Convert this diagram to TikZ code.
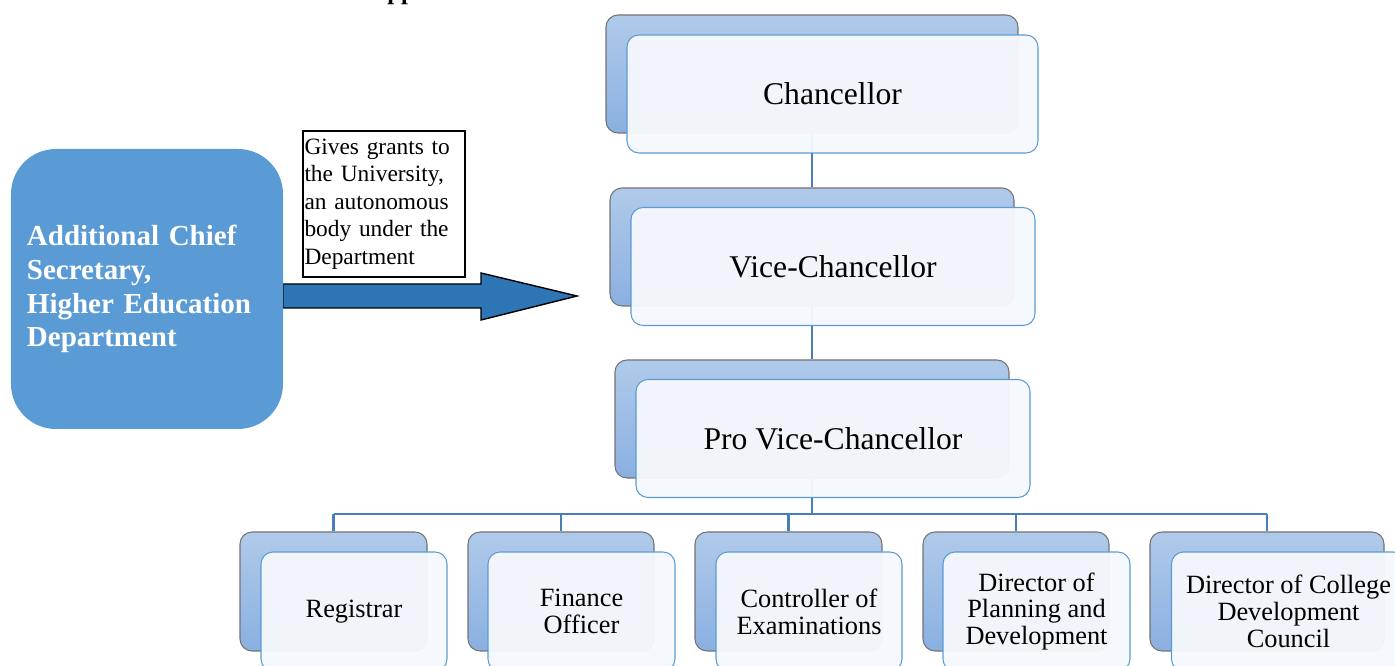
\documentclass[tikz,border=0pt]{standalone}
\usepackage{fontspec}
\setmainfont{Liberation Serif}
\definecolor{acsblue}{HTML}{5B9BD5}
\definecolor{arrowblue}{HTML}{2E75B6}
\definecolor{backtop}{HTML}{B0CAEA}
\definecolor{backbot}{HTML}{8AB0E1}
\definecolor{frontfill}{HTML}{F5F8FC}
\definecolor{frontline}{HTML}{5B9BD5}
\definecolor{linkblue}{HTML}{4A7EBB}
\begin{document}
\begin{tikzpicture}[
  backbox/.style={draw=black!55, line width=0.6pt, rounded corners=0.24cm, top color=backtop, bottom color=backbot, inner sep=0pt},
  frontbox/.style={draw=frontline, line width=0.6pt, rounded corners=0.24cm, fill=frontfill, fill opacity=0.96, text opacity=1, inner sep=2pt, align=center},
  toptext/.style={font=\fontsize{18}{21.6}\selectfont},
  subtext/.style={font=\fontsize{15}{15.3}\selectfont},
  link/.style={draw=linkblue, line width=1.2pt}
]
\useasboundingbox (0,0) rectangle (27.9,-13.32);
% cut-off title
\node[anchor=base west, inner sep=0pt, font=\bfseries\fontsize{14}{16}\selectfont] (title) at (7.74,0) {pp};
% grant arrow and department
\draw[fill=arrowblue, line width=0.8pt] (5.66,-5.68) -- (9.62,-5.68) -- (9.62,-5.46) -- (11.54,-5.92) -- (9.62,-6.40) -- (9.62,-6.16) -- (5.66,-6.16) -- cycle;
\node[fill=acsblue, rounded corners=0.9cm, minimum width=5.44cm, minimum height=5.6cm, text width=4.8cm, inner sep=0.32cm, align=left, text=white, font=\bfseries\fontsize{16.5}{19.3}\selectfont] (acs) at (2.94,-5.78) {\raisebox{-4pt}{}Additional Chief\\ Secretary,\\ Higher Education\\ Department};
\node[draw, line width=0.8pt, minimum width=3.24cm, minimum height=2.92cm, text width=3.18cm, inner sep=0.03cm, align=left, font=\fontsize{13.3}{15.6}\selectfont] (grant) at (7.68,-4.08) {Gives grants to\\ the University,\\ an autonomous\\ body under the\\ Department};
% back boxes
\node[backbox, minimum width=8.24cm, minimum height=2.36cm] (chan-bk) at (16.24,-1.48) {};
\node[backbox, minimum width=8.08cm, minimum height=2.36cm] (vc-bk) at (16.24,-4.94) {};
\node[backbox, minimum width=7.88cm, minimum height=2.36cm] (pvc-bk) at (16.24,-8.38) {};
\node[backbox, minimum width=3.74cm, minimum height=2.38cm] (reg-bk) at (6.67,-11.83) {};
\node[backbox, minimum width=3.72cm, minimum height=2.38cm] (fin-bk) at (11.22,-11.83) {};
\node[backbox, minimum width=3.74cm, minimum height=2.38cm] (coe-bk) at (15.77,-11.83) {};
\node[backbox, minimum width=3.72cm, minimum height=2.38cm] (dpd-bk) at (20.32,-11.83) {};
\node[backbox, minimum width=4.68cm, minimum height=2.38cm] (dcdc-bk) at (25.34,-11.83) {};
% links
\coordinate (bus) at (16.24,-10.28);
\draw[link] (chan-bk.south) -- (vc-bk.north);
\draw[link] (vc-bk.south) -- (pvc-bk.north);
\draw[link] (pvc-bk.south) -- (bus);
\draw[link] (bus -| reg-bk.north) -- (bus -| dcdc-bk.north);
\foreach \n in {reg,fin,coe,dpd,dcdc}
  \draw[link] (bus -| \n-bk.north) -- (\n-bk.north);
% front boxes
\node[frontbox, toptext, minimum width=8.22cm, minimum height=2.36cm] (chan) at ([shift={(0.41,-0.4)}]chan-bk.center) {Chancellor};
\node[frontbox, toptext, minimum width=8.08cm, minimum height=2.36cm] (vc) at ([shift={(0.42,-0.39)}]vc-bk.center) {Vice-Chancellor};
\node[frontbox, toptext, minimum width=7.88cm, minimum height=2.36cm] (pvc) at ([shift={(0.42,-0.39)}]pvc-bk.center) {Pro Vice-Chancellor};
\node[frontbox, subtext, minimum width=3.72cm, minimum height=2.38cm] (reg) at ([shift={(0.41,-0.4)}]reg-bk.center) {Registrar};
\node[frontbox, subtext, minimum width=3.74cm, minimum height=2.38cm] (fin) at ([shift={(0.41,-0.4)}]fin-bk.center) {Finance\\ Officer};
\node[frontbox, subtext, minimum width=3.72cm, minimum height=2.38cm] (coe) at ([shift={(0.41,-0.4)}]coe-bk.center) {Controller of\\ Examinations};
\node[frontbox, subtext, minimum width=3.74cm, minimum height=2.38cm] (dpd) at ([shift={(0.41,-0.4)}]dpd-bk.center) {Director of\\ Planning and\\ Development};
\node[frontbox, subtext, minimum width=4.68cm, minimum height=2.38cm] (dcdc) at ([shift={(0.43,-0.4)}]dcdc-bk.center) {Director of College\\ Development\\ Council};
\end{tikzpicture}
\end{document}
